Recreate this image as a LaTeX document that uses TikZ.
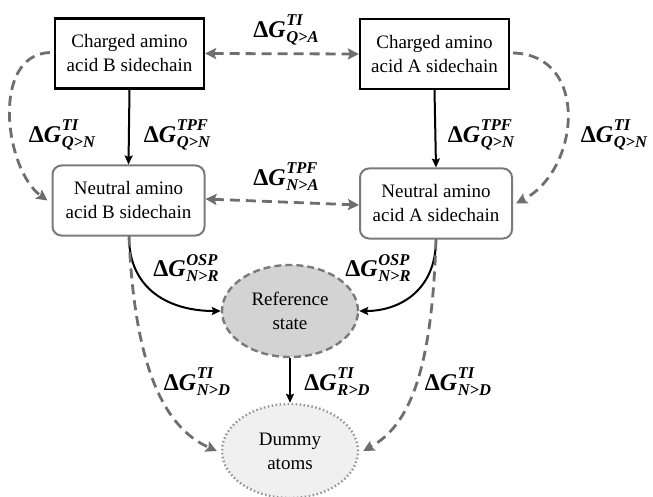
\documentclass[tikz,border=0pt]{standalone}
\usepackage{fontspec}
\setmainfont{Liberation Serif}
\usetikzlibrary{arrows.meta,shapes.geometric}

\definecolor{linegray}{HTML}{6E6E6E}
\definecolor{boxgray}{HTML}{7A7A7A}
\definecolor{reffill}{HTML}{D3D3D3}
\definecolor{dumfill}{HTML}{F0F0F0}

% Delta G label with stacked super- and subscript
\newcommand{\dGlab}[2]{{\fontsize{24}{24}\selectfont\bfseries Δ\itshape G}\kern0.5pt%
  {\fontsize{16.5}{16.5}\selectfont\bfseries\itshape
   \makebox[0pt][l]{\raisebox{0.72em}{#1}}\raisebox{-0.3em}{#2}}}

\tikzset{
  boxtext/.style={align=center, font=\fontsize{19}{24}\selectfont},
  chargedbox/.style={boxtext, draw=black, line width=2.3pt, minimum width=149pt, minimum height=70pt, inner sep=2pt},
  neutralbox/.style={boxtext, draw=boxgray, line width=2pt, rounded corners=9pt, minimum width=152pt,
    minimum height=70pt, inner sep=2pt},
  refnode/.style={boxtext, ellipse, draw=boxgray, fill=reffill, line width=2.4pt, dash pattern=on 7pt off 4pt,
    minimum width=136pt, minimum height=92pt, inner sep=0pt},
  dumnode/.style={boxtext, ellipse, draw=boxgray!80, fill=dumfill, line width=2.4pt, dash pattern=on 1.5pt off 2.5pt,
    minimum width=136pt, minimum height=94pt, inner sep=0pt},
  graytip/.tip={Stealth[length=11pt,width=11pt,inset=2pt]},
  grayflow/.style={draw=linegray, line width=2.8pt, dash pattern=on 10pt off 6pt, -graytip},
  solidflow/.style={draw=black, line width=2pt, -{Stealth[length=9pt,width=8pt,inset=1.5pt]}},
  lab/.style={inner sep=0pt}
}

\begin{document}
\begin{tikzpicture}[x=1pt,y=-1pt]
\useasboundingbox (0,0) rectangle (653,497);

% states
\node[chargedbox] (cB) at (129.5,53.5) {Charged amino\\acid B sidechain};
\node[chargedbox] (cA) at (434.5,54) {Charged amino\\acid A sidechain};
\node[neutralbox] (nB) at (128.5,200.5) {Neutral amino\\acid B sidechain};
\node[neutralbox] (nA) at (436,203.5) {Neutral amino\\acid A sidechain};
\node[refnode] (ref) at (290,311) {Reference\\state};
\node[dumnode] (dum) at (290,451) {Dummy\\atoms};

% horizontal exchanges
\draw[grayflow, graytip-graytip] (cB.east) -- (cA.west);
\draw[grayflow, graytip-graytip] ([yshift=1.5pt]nB.east) -- ([yshift=-1.5pt]nA.west);

% charged -> neutral
\draw[solidflow] (cB.south) -- (nB.north);
\draw[solidflow] (cA.south) -- (nA.north);
\draw[grayflow] ([xshift=-4pt,yshift=1pt]cB.west) .. controls (-10,55) and (5,170) .. ([xshift=-4pt]nB.west);
\draw[grayflow] ([xshift=3pt,yshift=1pt]cA.east) .. controls (590,55) and (580,170) .. ([xshift=3pt]nA.east);

% neutral -> reference
\draw[solidflow] ([xshift=0.5pt]nB.south) .. controls (129,290) and (170,311) .. (ref.west);
\draw[solidflow] (nA.south) .. controls (436,290) and (400,311) .. (ref.east);

% neutral -> dummy
\draw[grayflow] ([xshift=0.5pt]nB.south) .. controls (135,380) and (170,430) .. ([xshift=-4pt]dum.west);
\draw[grayflow] (nA.south) .. controls (432,370) and (410,425) .. ([xshift=4pt]dum.east);

% reference -> dummy
\draw[solidflow] (ref.south) -- (dum.north);

% labels
\node[lab] (lQA) at (286,30) {\dGlab{TI}{Q>A}};
\node[lab] (lNA) at (286,177) {\dGlab{TPF}{N>A}};
\node[lab] (lQN1) at (62,135) {\dGlab{TI}{Q>N}};
\node[lab] (lQN2) at (177,135) {\dGlab{TPF}{Q>N}};
\node[lab] (lQN3) at (481,135) {\dGlab{TPF}{Q>N}};
\node[lab] (lQN4) at (614,135) {\dGlab{TI}{Q>N}};
\node[lab] (lNR1) at (186,268) {\dGlab{OSP}{N>R}};
\node[lab] (lNR2) at (378,268) {\dGlab{OSP}{N>R}};
\node[lab] (lND1) at (197,382) {\dGlab{TI}{N>D}};
\node[lab] (lRD) at (337,382) {\dGlab{TI}{R>D}};
\node[lab] (lND2) at (458,382) {\dGlab{TI}{N>D}};
\end{tikzpicture}
\end{document}
